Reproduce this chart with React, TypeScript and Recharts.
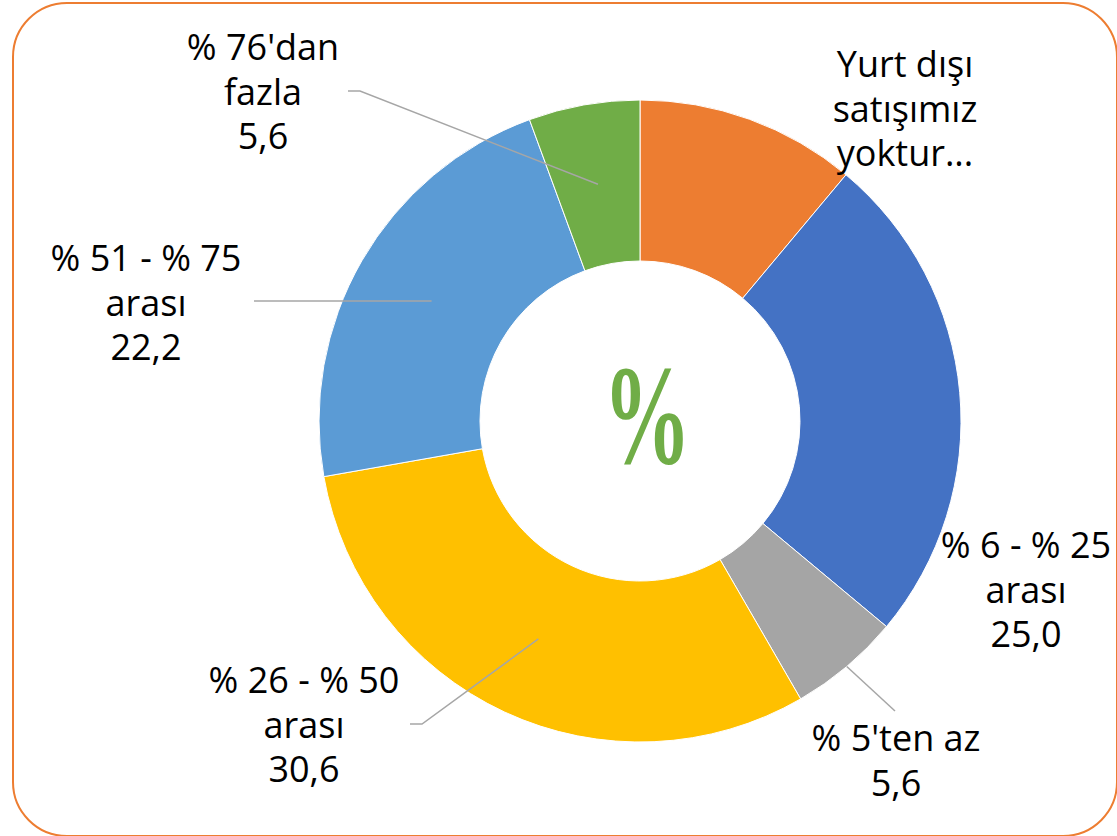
import { PieChart, Pie, Cell, Label } from 'recharts'

const categories = [
  'Yurt dışı satışımız yoktur...',
  '% 6 - % 25 arası',
  "% 5'ten az",
  '% 26 - % 50 arası',
  '% 51 - % 75 arası',
  "% 76'dan fazla",
]
const values = [11.1, 25.0, 5.6, 30.6, 22.2, 5.6]
// wrapped label text as shown in the chart
const labelText = [
  ['Yurt dışı', 'satışımız', 'yoktur...'],
  ['% 6 - % 25', 'arası'],
  ["% 5'ten az"],
  ['% 26 - % 50', 'arası'],
  ['% 51 - % 75', 'arası'],
  ["% 76'dan", 'fazla'],
]
const showValue = [false, true, true, true, true, true]
const colors = ['#ED7D31', '#4472C4', '#A5A5A5', '#FFC000', '#5B9BD5', '#70AD47']

const data = categories.map((name, i) => ({ name, value: values[i] }))

// label placement relative to the pie centre (dragged labels, like in Excel)
type Layout = { dx: number; dy: number; from?: 'mid' | 'outer'; pts?: number[][] }
const labelLayout: Layout[] = [
  { dx: 265, dy: -344 },
  { dx: 386, dy: 137 },
  { dx: 256, dy: 330, from: 'outer', pts: [[255, 290]] },
  { dx: -336, dy: 272, from: 'mid', pts: [[-218, 303], [-230, 303]] },
  { dx: -494, dy: -150, from: 'mid', pts: [[-386, -120]] },
  { dx: -377, dy: -361, from: 'mid', pts: [[-280, -330], [-292, -330]] },
]

const CX = 640
const CY = 421
const RADIAN = Math.PI / 180
const FONT = '"Open Sans", "Noto Sans", sans-serif'
const LINE_H = 44.5

function renderLabel(props: any) {
  const { cx, cy, midAngle, innerRadius, outerRadius, index, value } = props
  const lay = labelLayout[index]
  const lines = [...labelText[index]]
  if (showValue[index]) lines.push(Number(value).toFixed(1).replace('.', ','))
  let leader = null
  if (lay.from && lay.pts) {
    const r = lay.from === 'outer' ? outerRadius : (innerRadius + outerRadius) / 2
    const sx = cx + r * Math.cos(-midAngle * RADIAN)
    const sy = cy + r * Math.sin(-midAngle * RADIAN)
    const d = `M${sx},${sy}` + lay.pts.map((p) => ` L${cx + p[0]},${cy + p[1]}`).join('')
    leader = <path d={d} stroke="#A6A6A6" strokeWidth={1.5} fill="none" />
  }
  return (
    <g key={`lbl-${index}`}>
      {leader}
      <text x={cx + lay.dx} y={cy + lay.dy} textAnchor="middle" fontFamily={FONT} fontSize={36} fill="#000">
        {lines.map((l, k) => (
          <tspan key={k} x={cx + lay.dx} dy={k === 0 ? 0 : LINE_H}>
            {l}
          </tspan>
        ))}
      </text>
    </g>
  )
}

function CenterMark() {
  return (
    <text
      x={CX + 7}
      y={CY + 42}
      textAnchor="middle"
      fontFamily='"Liberation Serif", "DejaVu Serif", serif'
      fontWeight="bold"
      fontSize={142}
      fill="#70AD47"
      textLength={88}
      lengthAdjust="spacingAndGlyphs"
    >
      %
    </text>
  )
}

export default function App() {
  return (
    <div style={{ position: 'absolute', left: 0, top: 0, width: 1117, height: 836, background: '#fff' }}>
      <div
        style={{
          position: 'absolute',
          left: 12,
          top: 2,
          width: 1102,
          height: 831,
          border: '2px solid #ED7D31',
          borderRadius: 55,
        }}
      />
      <div style={{ position: 'absolute', left: 0, top: 0 }}>
        <PieChart width={1117} height={836} margin={{ top: 0, right: 0, bottom: 0, left: 0 }}>
          <Pie
            data={data}
            dataKey="value"
            nameKey="name"
            cx={CX}
            cy={CY}
            innerRadius={160}
            outerRadius={321}
            startAngle={90}
            endAngle={-270}
            stroke="#fff"
            strokeWidth={1}
            label={renderLabel}
            labelLine={false}
            isAnimationActive={false}
          >
            {data.map((d, i) => (
              <Cell key={d.name} fill={colors[i]} />
            ))}
            <Label position="center" content={CenterMark} />
          </Pie>
        </PieChart>
      </div>
    </div>
  )
}
